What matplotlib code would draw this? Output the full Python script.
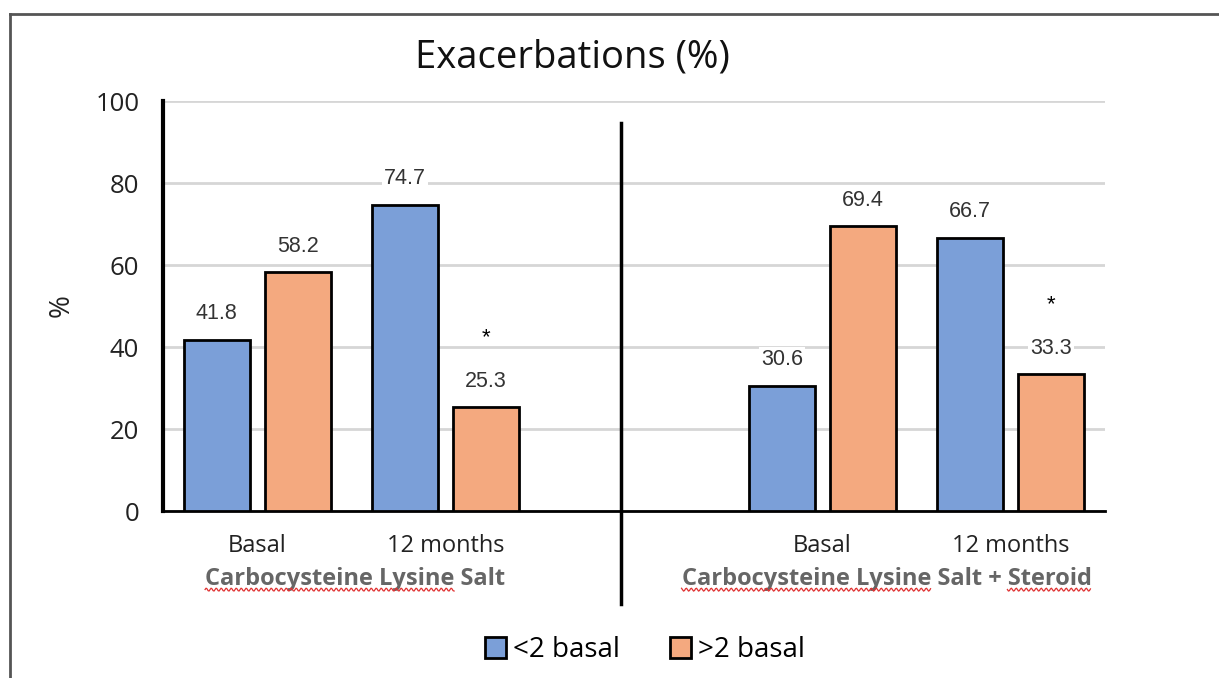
import numpy as np
import matplotlib
matplotlib.use("Agg")
from matplotlib import pyplot as plt
from matplotlib.lines import Line2D
from matplotlib.patches import Patch

# exacerbation rates per visit, split by baseline exacerbation count
visits = ["Basal", "12 months", "Basal", "12 months"]
visit_pos = [0, 1, 3, 4]
low_basal = [41.8, 74.7, 30.6, 66.7]     # <2 basal
high_basal = [58.2, 25.3, 69.4, 33.3]    # >2 basal
significant = [False, True, False, True]
treatments = ["Carbocysteine Lysine Salt", "Carbocysteine Lysine Salt + Steroid"]
treatment_pos = [0.52, 3.34]

blue = "#7b9fd8"
orange = "#f4a97f"
label_col = "#333333"
GROUP_SIZE = 17

fig = plt.figure(figsize=(12.19, 6.78), dpi=100)
ax = fig.add_axes([0.1337, 0.2463, 0.7728, 0.6047])

x = np.array(visit_pos, dtype=float)
w = 0.35
off = 0.215
ax.bar(x - off, low_basal, w, color=blue, edgecolor="black", linewidth=2, zorder=3)
ax.bar(x + off, high_basal, w, color=orange, edgecolor="black", linewidth=2, zorder=3)

for xi, lo, hi, sig in zip(x, low_basal, high_basal, significant):
    for xx, v in ((xi - off, lo), (xi + off, hi)):
        ax.text(xx, v + 6.3, f"{v:.1f}", ha="center", va="center", fontsize=15.5,
                family="Liberation Sans", color=label_col, zorder=4,
                bbox=dict(facecolor="white", edgecolor="none", pad=1.5))
    if sig:
        ax.text(xi + off, hi + 17, "*", ha="center", va="center", fontsize=16,
                family="Liberation Sans", color="black", zorder=4)

ax.set_ylim(0, 100)
ax.set_xlim(-0.5, 4.5)
ax.set_yticks(range(0, 101, 20))
ax.yaxis.grid(True, color="#d6d6d6", linewidth=2, zorder=0)
ax.set_axisbelow(True)
ax.tick_params(axis="y", length=0, pad=17, labelsize=18.5, labelcolor="#222222")
for lab in ax.get_yticklabels():
    lab.set_family("Open Sans")
ax.set_xticks([])
for s in ("top", "right"):
    ax.spines[s].set_visible(False)
ax.spines["left"].set_linewidth(3)
ax.spines["bottom"].set_linewidth(2)
ax.set_ylabel("%", fontsize=20, family="Open Sans", labelpad=14, color="#222222")

# visit and treatment labels under the axis
for xi, name in zip(x, visits):
    ax.text(xi, -8.5, name, ha="center", va="center", fontsize=17,
            family="Open Sans", color="#222222")
group_texts = []
for tx, name in zip(treatment_pos, treatments):
    t = ax.text(tx, -16.5, name, ha="center", va="center", fontsize=GROUP_SIZE,
                family="Open Sans", weight="bold", color="#666666")
    group_texts.append(t)

# vertical divider between the two treatment panels
ax.add_line(Line2D([1.93, 1.93], [-22.8, 94.6], color="black", linewidth=2.5,
                   clip_on=False, zorder=5))

fig.text(0.47, 0.9145, "Exacerbations (%)", ha="center", va="center",
         fontsize=27.5, family="Open Sans", color="#111111")

fig.legend(handles=[Patch(facecolor=blue, edgecolor="black", linewidth=2, label="<2 basal"),
                    Patch(facecolor=orange, edgecolor="black", linewidth=2, label=">2 basal")],
           loc="center", bbox_to_anchor=(0.529, 0.041), ncol=2, frameon=False,
           prop={"family": "Open Sans", "size": 20}, handlelength=0.75,
           handleheight=0.75, handletextpad=0.25, columnspacing=1.8)

# spell-check squiggles under the treatment names
fig.canvas.draw()
r = fig.canvas.get_renderer()


def squiggle(t, start, stop):
    full = t.get_window_extent(r)
    s = t.get_text()
    probe = fig.text(0, 0, s[:start], fontsize=GROUP_SIZE, family="Open Sans", weight="bold")
    x0 = full.x0 + (probe.get_window_extent(r).width if start else 0)
    probe.set_text(s[:stop])
    x1 = full.x0 + probe.get_window_extent(r).width
    probe.remove()
    xs = np.arange(x0, x1, 1.0)
    ys = full.y0 + 1 + 1.5 * np.sin(xs * np.pi / 2.5)
    fig.add_artist(Line2D(xs / fig.bbox.width, ys / fig.bbox.height,
                          color="#e03030", linewidth=0.9))


for t in group_texts:
    squiggle(t, 0, len("Carbocysteine Lysine"))
squiggle(group_texts[1], len("Carbocysteine Lysine Salt + "), len(treatments[1]))

# outer frame, left and top edges only
fig.add_artist(Line2D([0.0085, 0.0085], [0, 0.979], color="#555555", linewidth=2))
fig.add_artist(Line2D([0.0085, 1.0], [0.979, 0.979], color="#555555", linewidth=2))

fig.savefig("out.png", dpi=100)
